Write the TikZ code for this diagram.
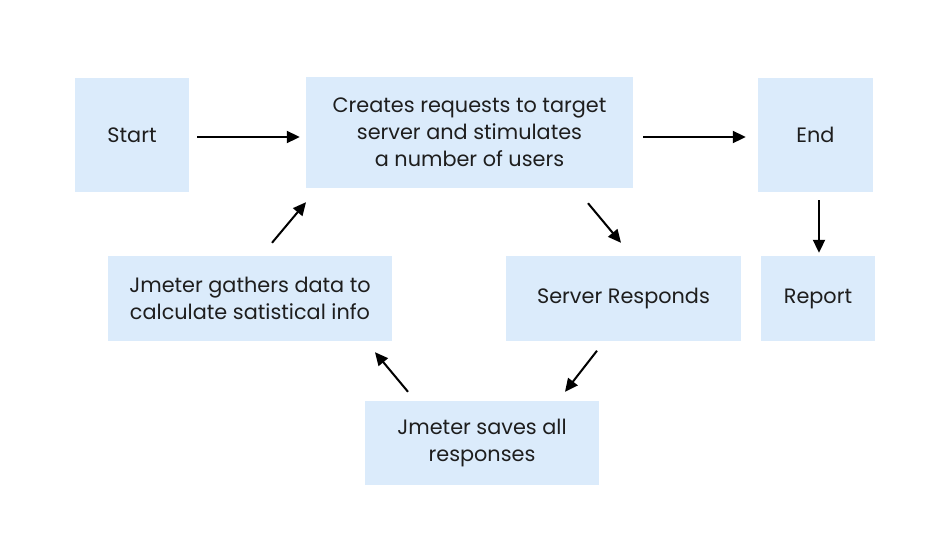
\documentclass[tikz,border=0pt]{standalone}
\usepackage{fontspec}
\setmainfont{Poppins}
\usetikzlibrary{arrows.meta}
\definecolor{boxblue}{RGB}{219,235,251}
\definecolor{txt}{RGB}{30,30,30}
\tikzset{
  box/.style={fill=boxblue, draw=none, inner sep=0pt, align=center, text=txt,
    font=\fontsize{20.8}{27}\selectfont},
  arr/.style={line width=2pt, draw=black, -{Triangle[length=13pt,width=12pt]}},
}
\begin{document}
\begin{tikzpicture}[x=1pt,y=-1pt]
\useasboundingbox (0,0) rectangle (946,555);
\node[box, minimum width=114pt, minimum height=114pt] (start) at (132,135) {Start};
\node[box, minimum width=327pt, minimum height=111pt] (creates) at (469.5,132.5) {Creates requests to target\\server and stimulates\\a number of users};
\node[box, minimum width=115pt, minimum height=114pt] (end) at (815.5,135) {End};
\node[box, minimum width=284pt, minimum height=85pt] (gathers) at (250,298.5) {Jmeter gathers data to\\calculate satistical info};
\node[box, minimum width=235pt, minimum height=85pt] (server) at (623.5,298.5) {Server Responds};
\node[box, minimum width=114pt, minimum height=85pt] (report) at (818,298.5) {Report};
\node[box, minimum width=234pt, minimum height=84pt] (saves) at (482,443) {Jmeter saves all\\responses};

\draw[arr] ([shift={(8,2)}]start.east) -- ([shift={(-6,4.5)}]creates.west);
\draw[arr] ([shift={(10,4.5)}]creates.east) -- ([shift={(-12,2)}]end.west);
\draw[arr] ([shift={(3.5,8)}]end.south) -- ([shift={(1,-3)}]report.north);
\draw[arr] ([shift={(118.5,15)}]creates.south) -- ([shift={(-2.5,-13)}]server.north);
\draw[arr] ([shift={(-26.5,9.5)}]server.south) -- ([shift={(83,-9)}]saves.north);
\draw[arr] ([shift={(-74,-9)}]saves.north) -- ([shift={(125,11)}]gathers.south);
\draw[arr] ([shift={(22,-13)}]gathers.north) -- ([shift={(-163.5,14)}]creates.south);
\end{tikzpicture}
\end{document}
